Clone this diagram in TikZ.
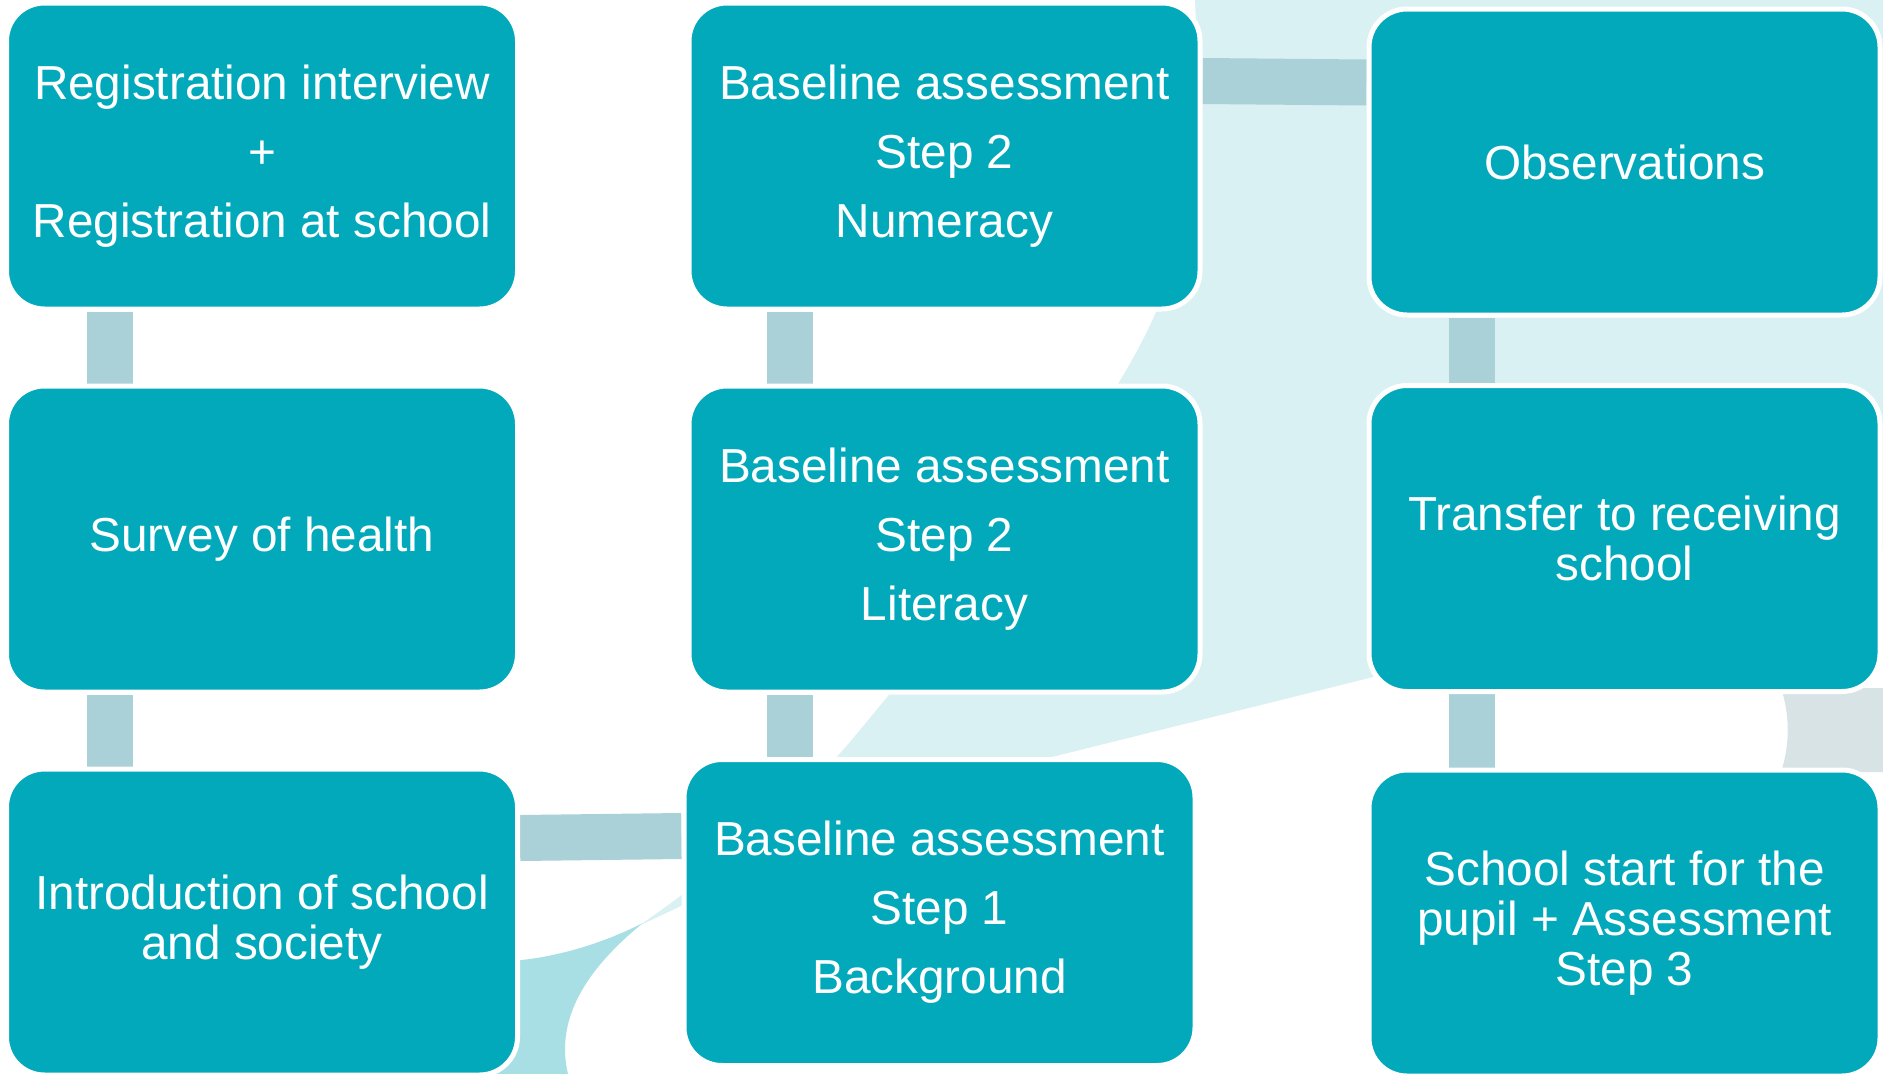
\documentclass[tikz,border=0pt]{standalone}
\usepackage{fontspec}
\setmainfont{Liberation Sans}
\usetikzlibrary{backgrounds}
\definecolor{teal}{RGB}{2,169,187}
\definecolor{connc}{RGB}{170,208,216}
\definecolor{lightc}{RGB}{218,241,243}
\definecolor{darkc}{RGB}{168,223,229}
\definecolor{grayc}{RGB}{216,227,230}
\pgfdeclarelayer{bglayer}
\pgfdeclarelayer{connlayer}
\pgfsetlayers{bglayer,connlayer,main}
\tikzset{
  box/.style={rectangle, rounded corners=38pt, fill=teal, draw=white, line width=5pt,
    minimum width=511pt, minimum height=306pt, inner sep=0pt, align=center,
    text=white, font=\fontsize{47.7pt}{50pt}\selectfont},
  conn/.style={draw=connc, line width=46pt, line cap=butt},
}
\begin{document}
\begin{tikzpicture}[x=1pt, y=-1pt]
\useasboundingbox (0,0) rectangle (1883,1074);
\begin{pgfonlayer}{bglayer}
  \fill[white] (0,0) rectangle (1883,1074);
  \begin{scope}
    \clip (0,0) rectangle (1883,1074);
    % light ribbon
    \fill[lightc] (640,925) .. controls (720,870) and (800,800) .. (850,742)
      .. controls (960,610) and (1110,420) .. (1156,312)
      .. controls (1190,230) and (1200,100) .. (1195,0)
      -- (1883,0) -- (1883,550) -- (1060,755)
      .. controls (880,800) and (720,890) .. (640,925) -- cycle;
    % dark swoosh
    \fill[darkc] (643,923) .. controls (605,942) and (565,955) .. (522,960)
      -- (400,975) -- (400,1074) -- (568,1074)
      .. controls (555,1020) and (585,970) .. (643,923) -- cycle;
    % gray region right
    \fill[grayc] (1781,688) .. controls (1790,715) and (1790,745) .. (1781,772)
      -- (1883,772) -- (1883,688) -- cycle;
  \end{scope}
\end{pgfonlayer}

\node[box] (b11) at (262,156) {Registration interview\\[19pt]+\\[19pt]Registration at school};
\node[box] (b21) at (262,539) {Survey of health};
\node[box] (b31) at (262,922) {Introduction of school\\and society};
\node[box] (b12) at (944.5,156) {Baseline assessment\\[19pt]Step 2\\[19pt]Numeracy};
\node[box] (b22) at (944.5,539) {Baseline assessment\\[19pt]Step 2\\[19pt]Literacy};
\node[box] (b32) at (939.5,912.5) {Baseline assessment\\[19pt]Step 1\\[19pt]Background};
\node[box] (b13) at (1624.5,162) {Observations};
\node[box] (b23) at (1624.5,538.5) {Transfer to receiving\\school};
\node[box] (b33) at (1624.5,923) {School start for the\\pupil + Assessment\\Step 3};

\begin{pgfonlayer}{connlayer}
  \draw[conn] ([xshift=-152.5pt]b11.south) -- ([xshift=-152.5pt]b21.north);
  \draw[conn] ([xshift=-152.5pt]b21.south) -- ([xshift=-152.5pt]b31.north);
  \draw[conn] ([yshift=84pt]b31.east) -- ([yshift=76.5pt]b32.west);
  \draw[conn] ([xshift=-155pt]b12.south) -- ([xshift=-155pt]b22.north);
  \draw[conn] ([xshift=-155pt]b22.south) -- ([xshift=-155pt]b22.south |- b32.north);
  \draw[conn] ([yshift=75pt]b12.east) -- ([yshift=79.5pt]b13.west);
  \draw[conn] ([xshift=-152.5pt]b13.south) -- ([xshift=-152.5pt]b23.north);
  \draw[conn] ([xshift=-152.5pt]b23.south) -- ([xshift=-152.5pt]b33.north);
\end{pgfonlayer}
\end{tikzpicture}
\end{document}
